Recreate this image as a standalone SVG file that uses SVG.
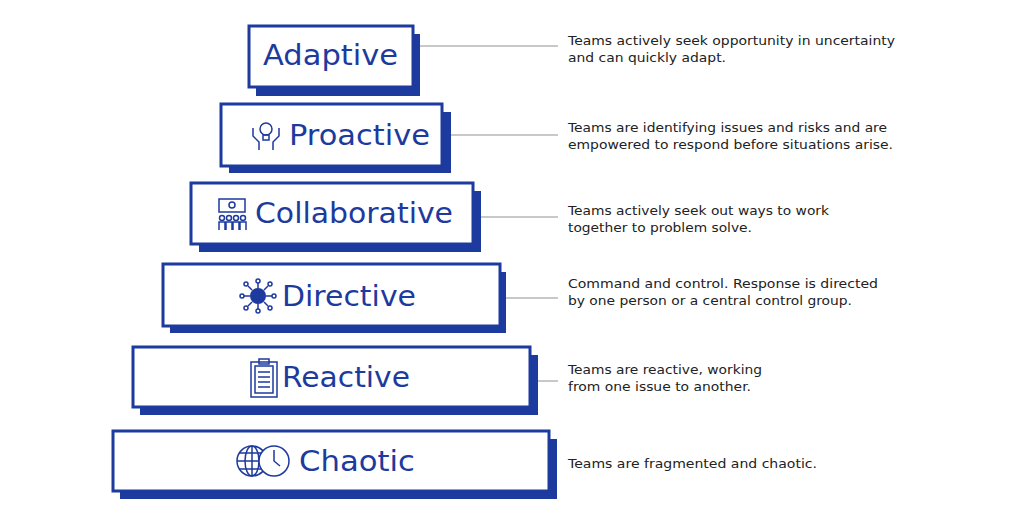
<svg xmlns="http://www.w3.org/2000/svg" width="1032" height="517" viewBox="0 0 1032 517">
<style>
.sh{fill:#1d3a9e}
.bx{fill:#fff;stroke:#1d3a9e;stroke-width:3}
.t{font-family:"DejaVu Sans",sans-serif;font-size:28px;fill:#1d3a9e}
.d{font-family:"DejaVu Sans",sans-serif;font-size:13px;fill:#222}
.ln{stroke:#c8c8c8;stroke-width:2}
.ic{fill:none;stroke:#1d3a9e;stroke-width:1.5}
</style>
<rect width="1032" height="517" fill="#fff"/>
<g id="connectors">
<line class="ln" x1="420" y1="46" x2="558" y2="46"/>
<line class="ln" x1="451" y1="135" x2="558" y2="135"/>
<line class="ln" x1="481" y1="217" x2="558" y2="217"/>
<line class="ln" x1="506" y1="298" x2="558" y2="298"/>
<line class="ln" x1="538" y1="381" x2="558" y2="381"/>
</g>
<g id="adaptive">
<rect class="sh" x="256" y="34" width="164" height="62"/>
<rect class="bx" x="249" y="26" width="164" height="61"/>
<text class="t" x="263" y="65" textLength="135" lengthAdjust="spacingAndGlyphs">Adaptive</text>
<text class="d" x="568" y="45" textLength="327" lengthAdjust="spacingAndGlyphs">Teams actively seek opportunity in uncertainty</text>
<text class="d" x="568" y="62" textLength="158" lengthAdjust="spacingAndGlyphs">and can quickly adapt.</text>
</g>
<g id="proactive">
<rect class="sh" x="229" y="112" width="222" height="61"/>
<rect class="bx" x="221" y="104" width="221" height="62"/>
<g class="ic"><circle cx="266" cy="129" r="6"/><rect x="263" y="135" width="6" height="5"/><path d="M253 128 v8 l6 6 v8 M279 128 v8 l-6 6 v8"/></g>
<text class="t" x="289" y="145" textLength="141" lengthAdjust="spacingAndGlyphs">Proactive</text>
<text class="d" x="568" y="132" textLength="319" lengthAdjust="spacingAndGlyphs">Teams are identifying issues and risks and are</text>
<text class="d" x="568" y="149" textLength="325" lengthAdjust="spacingAndGlyphs">empowered to respond before situations arise.</text>
</g>
<g id="collaborative">
<rect class="sh" x="199" y="191" width="282" height="61"/>
<rect class="bx" x="191" y="183" width="282" height="61"/>
<g class="ic"><rect x="219" y="199" width="26" height="13"/><circle cx="232" cy="205" r="3"/><path d="M219 230 v-8 h6 v8 M226 230 v-8 h6 v8 M233 230 v-8 h6 v8 M240 230 v-8 h6 v8"/><circle cx="222" cy="218" r="2.5"/><circle cx="229" cy="218" r="2.5"/><circle cx="236" cy="218" r="2.5"/><circle cx="243" cy="218" r="2.5"/></g>
<text class="t" x="255" y="223" textLength="198" lengthAdjust="spacingAndGlyphs">Collaborative</text>
<text class="d" x="568" y="215" textLength="261" lengthAdjust="spacingAndGlyphs">Teams actively seek out ways to work</text>
<text class="d" x="568" y="232" textLength="184" lengthAdjust="spacingAndGlyphs">together to problem solve.</text>
</g>
<g id="directive">
<rect class="sh" x="170" y="272" width="336" height="61"/>
<rect class="bx" x="163" y="264" width="337" height="62"/>
<circle cx="258" cy="296" r="8" fill="#1d3a9e"/>
<g class="ic"><path d="M258 288 v-5 M258 304 v5 M250 296 h-6 M266 296 h6 M252 290 l-4 -4 M264 290 l4 -4 M252 302 l-4 4 M264 302 l4 4"/><circle cx="258" cy="281" r="2"/><circle cx="258" cy="311" r="2"/><circle cx="242" cy="296" r="2"/><circle cx="274" cy="296" r="2"/><circle cx="246" cy="284" r="2"/><circle cx="270" cy="284" r="2"/><circle cx="246" cy="308" r="2"/><circle cx="270" cy="308" r="2"/></g>
<text class="t" x="282" y="306" textLength="134" lengthAdjust="spacingAndGlyphs">Directive</text>
<text class="d" x="568" y="288" textLength="310" lengthAdjust="spacingAndGlyphs">Command and control. Response is directed</text>
<text class="d" x="568" y="305" textLength="284" lengthAdjust="spacingAndGlyphs">by one person or a central control group.</text>
</g>
<g id="reactive">
<rect class="sh" x="140" y="355" width="398" height="60"/>
<rect class="bx" x="133" y="347" width="397" height="60"/>
<g class="ic"><rect x="251" y="362" width="26" height="35"/><rect x="255" y="366" width="18" height="27"/><rect x="259" y="359" width="10" height="5"/><path d="M258 372 h12 M258 377 h12 M258 382 h12 M258 387 h12"/></g>
<text class="t" x="282" y="387" textLength="128" lengthAdjust="spacingAndGlyphs">Reactive</text>
<text class="d" x="568" y="374" textLength="194" lengthAdjust="spacingAndGlyphs">Teams are reactive, working</text>
<text class="d" x="568" y="391" textLength="183" lengthAdjust="spacingAndGlyphs">from one issue to another.</text>
</g>
<g id="chaotic">
<rect class="sh" x="120" y="439" width="437" height="60"/>
<rect class="bx" x="113" y="431" width="436" height="60"/>
<g class="ic" stroke-width="2"><circle cx="252" cy="461" r="15"/><ellipse cx="252" cy="461" rx="7" ry="15"/><path d="M237 461 h30 M239 453 h26 M239 469 h26 M252 446 v30"/><circle cx="274" cy="461" r="15" fill="#fff"/><path d="M274 450 v11 l6 5"/></g>
<text class="t" x="299" y="471" textLength="116" lengthAdjust="spacingAndGlyphs">Chaotic</text>
<text class="d" x="568" y="468" textLength="249" lengthAdjust="spacingAndGlyphs">Teams are fragmented and chaotic.</text>
</g>
</svg>
